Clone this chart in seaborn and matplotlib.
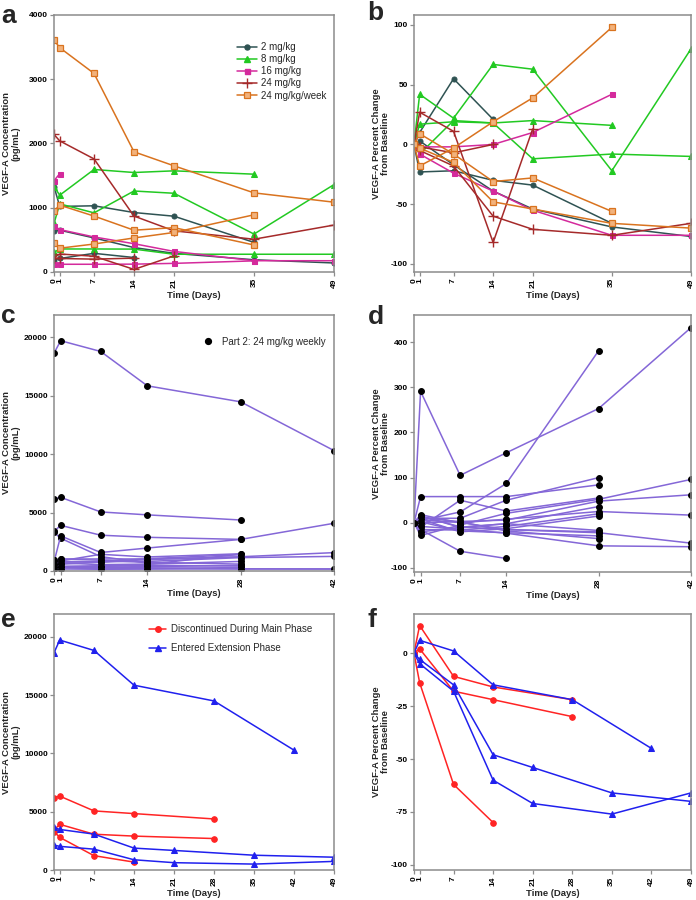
import matplotlib
matplotlib.use("Agg")
import matplotlib.pyplot as plt
from matplotlib.lines import Line2D
import seaborn as sns
import pandas as pd

# ---------------- DATA ----------------
# Panel a/b : Part 1 dose groups, (days, values) per patient
a_days_ticks = [0, 1, 7, 14, 21, 35, 49]
a_2mg = [([0, 1, 7, 14, 21, 35], [1330, 1020, 1030, 925, 868, 460]),
         ([0, 1, 7, 14, 21, 35, 49], [640, 650, 530, 380, 290, 190, 140]),
         ([0, 1, 7, 14], [190, 210, 290, 225])]
a_8mg = [([0, 1, 7, 14, 21, 35], [1330, 1195, 1595, 1548, 1574, 1522]),
         ([0, 1, 7, 14, 21, 35, 49], [755, 1060, 920, 1260, 1225, 590, 1360]),
         ([0, 1, 7, 14, 21, 35, 49], [305, 358, 358, 356, 276, 276, 276])]
a_16mg = [([0, 1], [1420, 1530]),
          ([0, 1, 7, 14, 21, 35, 49], [720, 660, 545, 440, 320, 175, 175]),
          ([0, 1, 7, 14, 21, 35], [122, 120, 120, 122, 134, 173])]
a_24mg = [([0, 1, 7, 14, 21, 35, 49], [2140, 2040, 1760, 870, 640, 510, 730]),
          ([0, 1, 7, 14, 21], [220, 280, 245, 40, 250]),
          ([0, 1, 7, 14], [215, 210, 200, 215])]
a_24wk = [([0, 1, 7, 14, 21, 35, 49], [3610, 3490, 3090, 1870, 1652, 1231, 1086]),
          ([0, 1, 7, 14, 21, 35], [950, 1040, 870, 650, 690, 420]),
          ([0, 1, 7, 14, 21, 35], [450, 370, 435, 530, 615, 890])]

b_2mg = [([0, 1, 7, 14, 21, 35], [0, -23, -22, -30, -34, -66]),
         ([0, 1, 7, 14, 21, 35, 49], [0, 3, -17, -39, -54, -69, -77]),
         ([0, 1, 7, 14], [0, 10, 55, 21])]
b_8mg = [([0, 1, 7, 14, 21, 35], [0, -8, 20, 18, 20, 16]),
         ([0, 1, 7, 14, 21, 35, 49], [0, 42, 22, 67, 63, -22, 80]),
         ([0, 1, 7, 14, 21, 35, 49], [0, 17, 19, 18, -12, -8, -10])]
b_16mg = [([0, 1], [0, 9]),
          ([0, 1, 7, 14, 21, 35, 49], [0, -8, -24, -39, -55, -76, -76]),
          ([0, 1, 7, 14, 21, 35], [0, -2, -2, 0, 10, 42])]
b_24mg = [([0, 1, 7, 14, 21, 35, 49], [0, -5, -18, -60, -71, -76, -66]),
          ([0, 1, 7, 14, 21], [0, 27, 11, -82, 13]),
          ([0, 1, 7, 14], [0, -2, -7, 0])]
b_24wk = [([0, 1, 7, 14, 21, 35, 49], [0, -3, -15, -48, -54, -66, -70]),
          ([0, 1, 7, 14, 21, 35], [0, 9, -8, -31, -28, -56]),
          ([0, 1, 7, 14, 21, 35], [0, -18, -3, 19, 39, 98])]

dose_labels = ["2 mg/kg", "8 mg/kg", "16 mg/kg", "24 mg/kg", "24 mg/kg/week"]

# Panel c/d : Part 2, 24 mg/kg weekly
cd_ticks = [0, 1, 7, 14, 28, 42]
c_series = [([0, 1, 7, 14, 28, 42], [18630, 19700, 18780, 15840, 14470, 10300]),
            ([0, 1, 7, 14, 28], [6160, 6300, 5050, 4800, 4360]),
            ([0, 1, 7, 14, 28], [3380, 3900, 3060, 2880, 2700]),
            ([0, 1, 7, 14], [3300, 2800, 1230, 680]),
            ([0, 1, 7, 14, 28, 42], [770, 3000, 1580, 1960, 2700, 4080]),
            ([0, 1, 7, 14, 28], [650, 1027, 1027, 1027, 1196]),
            ([0, 1, 7, 14, 28], [300, 315, 372, 561, 1443]),
            ([0, 1, 7, 14, 28], [950, 855, 1425, 1197, 1472]),
            ([0, 1, 7, 14, 28], [700, 770, 770, 1050, 1400]),
            ([0, 1, 7, 14, 28, 42], [800, 576, 760, 968, 1216, 1568]),
            ([0, 1, 7, 14, 28, 42], [770, 770, 793, 816, 1140, 1247]),
            ([0, 1, 7, 14, 28], [600, 690, 540, 588, 816]),
            ([0, 1, 7, 14, 28], [400, 340, 336, 368, 480]),
            ([0, 1, 7, 14, 28], [250, 270, 200, 218, 288]),
            ([0, 1, 7, 14, 28, 42], [350, 322, 301, 270, 172, 165]),
            ([0, 1, 7, 14, 28], [500, 400, 450, 490, 415]),
            ([0, 1, 7, 14, 28, 42], [145, 171, 145, 157, 181, 170]),
            ([0, 1, 7, 14, 28], [900, 1008, 918, 738, 585])]
d_series = [([0, 1, 7, 14, 28, 42], [0, 6, 1, -15, -22, -45]),
            ([0, 1, 7, 14, 28], [0, 2, -18, -22, -29]),
            ([0, 1, 7, 14, 28], [0, 15, -9, -15, -20]),
            ([0, 1, 7, 14], [0, -15, -63, -79]),
            ([0, 1, 7, 14, 28, 42], [0, 291, 105, 155, 253, 432]),
            ([0, 1, 7, 14, 28], [0, 58, 58, 58, 84]),
            ([0, 1, 7, 14, 28], [0, 5, 24, 87, 381]),
            ([0, 1, 7, 14, 28], [0, -10, 50, 26, 55]),
            ([0, 1, 7, 14, 28], [0, 10, 10, 50, 100]),
            ([0, 1, 7, 14, 28, 42], [0, -28, -5, 21, 52, 96]),
            ([0, 1, 7, 14, 28, 42], [0, 0, 3, 6, 48, 62]),
            ([0, 1, 7, 14, 28], [0, 15, -10, -2, 36]),
            ([0, 1, 7, 14, 28], [0, -15, -16, -8, 20]),
            ([0, 1, 7, 14, 28], [0, 8, -20, -13, 15]),
            ([0, 1, 7, 14, 28, 42], [0, -8, -14, -23, -51, -53]),
            ([0, 1, 7, 14, 28], [0, -20, -10, -2, -17]),
            ([0, 1, 7, 14, 28, 42], [0, 18, 0, 8, 25, 17]),
            ([0, 1, 7, 14, 28], [0, 12, 2, -18, -35])]
cd_label = "Part 2: 24 mg/kg weekly"

# Panel e/f
ef_ticks = [0, 1, 7, 14, 21, 28, 35, 42, 49]
e_disc = [([0, 1, 7, 14, 28], [6200, 6340, 5070, 4840, 4380]),
          ([0, 1, 7, 14, 28], [3430, 3920, 3070, 2910, 2700]),
          ([0, 1, 7, 14], [3300, 2800, 1230, 680])]
e_ext = [([0, 1, 7, 14, 28, 42], [18630, 19720, 18830, 15850, 14500, 10280]),
         ([0, 1, 7, 14, 21, 35, 49], [3650, 3480, 3080, 1880, 1680, 1270, 1100]),
         ([0, 1, 7, 14, 21, 35, 49], [2140, 2030, 1790, 880, 630, 510, 740])]
f_disc = [([0, 1, 7, 14, 28], [0, 13, -11, -16, -22]),
          ([0, 1, 7, 14, 28], [0, 2, -18, -22, -30]),
          ([0, 1, 7, 14], [0, -14, -62, -80])]
f_ext = [([0, 1, 7, 14, 28, 42], [0, 6, 1, -15, -22, -45]),
         ([0, 1, 7, 14, 21, 35, 49], [0, -3, -15, -48, -54, -66, -70]),
         ([0, 1, 7, 14, 21, 35, 49], [0, -5, -18, -60, -71, -76, -66])]
ef_labels = ["Discontinued During Main Phase", "Entered Extension Phase"]

# ---------------- STYLE ----------------
sns.set_style("ticks")
plt.rcParams['font.family'] = ['Liberation Sans', 'DejaVu Sans']

SPINE = '#8c8c8c'
dose_styles = [
    dict(color='#2f5353', marker='o', markersize=3.6, markerfacecolor='#2f5353', markeredgecolor='#2f5353'),
    dict(color='#22c922', marker='^', markersize=4.0, markerfacecolor='#22c922', markeredgecolor='#22c922'),
    dict(color='#d42a9c', marker='s', markersize=3.6, markerfacecolor='#d42a9c', markeredgecolor='#d42a9c'),
    dict(color='#a52a2a', marker='+', markersize=6.5, markeredgewidth=1.0, markeredgecolor='#a52a2a'),
    dict(color='#d9731f', marker='s', markersize=4.6, markerfacecolor='#f2b27c', markeredgecolor='#d9731f', markeredgewidth=0.9),
]
PURPLE = '#8467d7'
RED = '#ff2424'
BLUE = '#2020ee'
LW = 1.1

fig = plt.figure(figsize=(6.96, 9.0), dpi=100)
LEFT_W = 0.4023
RIGHT_W = 0.3980
ax_a = fig.add_axes([0.0776, 0.6978, LEFT_W, 0.2856])
ax_b = fig.add_axes([0.5948, 0.6978, RIGHT_W, 0.2856])
ax_c = fig.add_axes([0.0776, 0.3656, LEFT_W, 0.2844])
ax_d = fig.add_axes([0.5948, 0.3644, RIGHT_W, 0.2856])
ax_e = fig.add_axes([0.0776, 0.0333, LEFT_W, 0.2844])
ax_f = fig.add_axes([0.5948, 0.0333, RIGHT_W, 0.2844])


def draw(ax, series, style):
    for days, vals in series:
        df = pd.DataFrame({'day': days, 'val': vals})
        sns.lineplot(data=df, x='day', y='val', ax=ax, estimator=None, sort=False,
                     linewidth=LW, legend=False, **style)


def style_axes(ax, xticks, xlim, yticks, ylim, ylabel, label_x):
    ax.set_xlim(*xlim)
    ax.set_ylim(*ylim)
    ax.set_xticks(xticks)
    ax.set_xticklabels([str(t) for t in xticks], rotation=90)
    ax.set_yticks(yticks)
    ax.set_yticklabels([str(t) for t in yticks])
    for s in ax.spines.values():
        s.set_color(SPINE)
        s.set_linewidth(1.1)
    ax.tick_params(axis='both', direction='out', length=3, width=0.9, color=SPINE,
                   labelsize=6, labelcolor='black', pad=1.5)
    for lbl in ax.get_xticklabels() + ax.get_yticklabels():
        lbl.set_fontweight('bold')
    ax.set_xlabel("Time (Days)", fontsize=6.8, fontweight='bold', labelpad=2)
    ax.set_ylabel(ylabel, fontsize=6.8, fontweight='bold', linespacing=1.1)
    ax.yaxis.set_label_coords(label_x, 0.5)


LX_L = -0.118
LX_R = -0.085

# Panel a
for grp, st in zip([a_2mg, a_8mg, a_16mg, a_24mg, a_24wk], dose_styles):
    draw(ax_a, grp, st)
style_axes(ax_a, a_days_ticks, (0, 49), [0, 1000, 2000, 3000, 4000], (0, 4000),
           "VEGF-A Concentration\n(pg/mL)", LX_L)
handles = [Line2D([0], [0], linewidth=LW, **st) for st in dose_styles]
ax_a.legend(handles, dose_labels, loc='upper left', bbox_to_anchor=(0.64, 0.91),
            frameon=False, fontsize=7, handlelength=2.0, labelspacing=0.22,
            handletextpad=0.5, borderaxespad=0)

# Panel b
for grp, st in zip([b_2mg, b_8mg, b_16mg, b_24mg, b_24wk], dose_styles):
    draw(ax_b, grp, st)
style_axes(ax_b, a_days_ticks, (0, 49), [-100, -50, 0, 50, 100], (-106.7, 108.4),
           "VEGF-A Percent Change\nfrom Baseline", LX_R)

# Panel c
cd_style = dict(color=PURPLE, marker='o', markersize=4.2, markerfacecolor='black',
                markeredgecolor='black')
draw(ax_c, c_series, cd_style)
style_axes(ax_c, cd_ticks, (0, 42), [0, 5000, 10000, 15000, 20000], (0, 21900),
           "VEGF-A Concentration\n(pg/mL)", LX_L)
ax_c.legend([Line2D([0], [0], linestyle='none', marker='o', markersize=4.2, color='black')],
            [cd_label], loc='upper left', bbox_to_anchor=(0.5, 0.93), frameon=False,
            fontsize=7, handletextpad=0.5, borderaxespad=0)

# Panel d
draw(ax_d, d_series, cd_style)
style_axes(ax_d, cd_ticks, (0, 42), [-100, 0, 100, 200, 300, 400], (-109, 460),
           "VEGF-A Percent Change\nfrom Baseline", LX_R)

# Panel e
red_style = dict(color=RED, marker='o', markersize=4.0, markerfacecolor=RED, markeredgecolor=RED)
blue_style = dict(color=BLUE, marker='^', markersize=4.4, markerfacecolor=BLUE, markeredgecolor=BLUE)
draw(ax_e, e_disc, red_style)
draw(ax_e, e_ext, blue_style)
style_axes(ax_e, ef_ticks, (0, 49), [0, 5000, 10000, 15000, 20000], (0, 21950),
           "VEGF-A Concentration\n(pg/mL)", LX_L)
ax_e.legend([Line2D([0], [0], linewidth=LW, **red_style), Line2D([0], [0], linewidth=LW, **blue_style)],
            ef_labels, loc='upper left', bbox_to_anchor=(0.325, 0.975), frameon=False,
            fontsize=7, handlelength=1.8, labelspacing=0.9, handletextpad=0.5, borderaxespad=0)

# Panel f
draw(ax_f, f_disc, red_style)
draw(ax_f, f_ext, blue_style)
style_axes(ax_f, ef_ticks, (0, 49), [-100, -75, -50, -25, 0], (-102.4, 18.4),
           "VEGF-A Percent Change\nfrom Baseline", LX_R)

# Panel letters
for x, ypx, s in [(0.002, 23, 'a'), (0.528, 20, 'b'), (0.002, 323, 'c'),
                  (0.528, 324, 'd'), (0.002, 627, 'e'), (0.528, 627, 'f')]:
    fig.text(x, 1 - ypx / 900, s, fontsize=19, fontweight='bold', va='baseline', ha='left')

fig.savefig("out.png", dpi=100)
